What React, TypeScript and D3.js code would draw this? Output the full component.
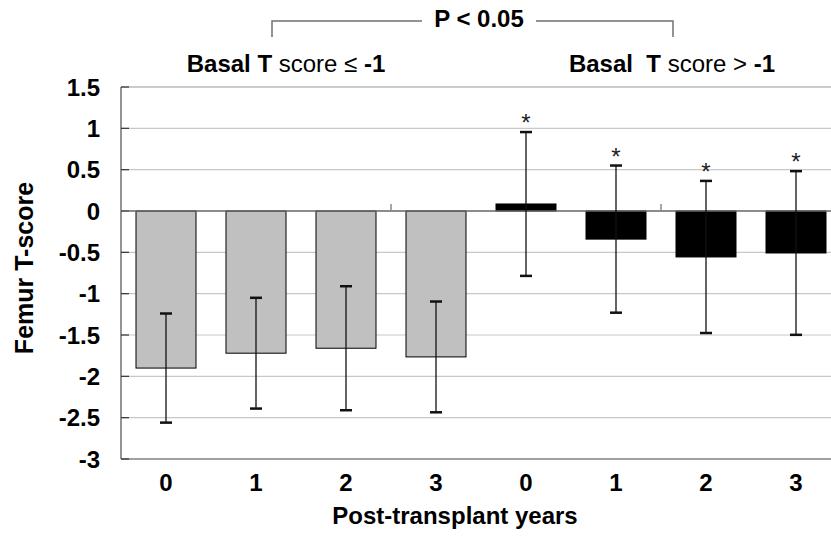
import React from "react";
import * as d3 from "d3";

const categories = ["0", "1", "2", "3", "0", "1", "2", "3"];
const groups = ["low", "low", "low", "low", "high", "high", "high", "high"];
const means = [-1.9, -1.72, -1.66, -1.765, 0.085, -0.34, -0.556, -0.508];
const sds = [0.66, 0.67, 0.75, 0.67, 0.87, 0.89, 0.92, 0.99];
const significant = [false, false, false, false, true, true, true, true];
const yTicks = [1.5, 1, 0.5, 0, -0.5, -1, -1.5, -2, -2.5, -3];
const yTickLabels = ["1.5", "1", "0.5", "0", "-0.5", "-1", "-1.5", "-2", "-2.5", "-3"];
const gridValues = [1.5, 1, 0.5, -0.5, -1, -1.5, -2, -2.5];

const W = 831;
const H = 537;
const plotLeft = 121;
const plotRight = 841;
const plotTop = 87;
const plotBottom = 459;
const FONT = "'Liberation Sans', Arial, Helvetica, sans-serif";

export default function App() {
  const idx = categories.map((_, i) => i);
  const x = d3
    .scaleBand<number>()
    .domain(idx)
    .range([plotLeft, plotRight])
    .paddingInner(1 / 3)
    .paddingOuter(1 / 6);
  const y = d3.scaleLinear().domain([-3, 1.5]).range([plotBottom, plotTop]);
  const step = x.step();
  const bw = x.bandwidth();
  const cx = (i: number) => (x(i) as number) + bw / 2;
  const capW = 12;

  return (
    <svg
      width={W}
      height={H}
      style={{ position: "absolute", left: 0, top: 0, background: "#fff" }}
      fontFamily={FONT}
    >
      <rect x={0} y={0} width={W} height={H} fill="#fff" />
      {/* gridlines */}
      {gridValues.map((v, i) => (
        <line
          key={"g" + i}
          x1={plotLeft}
          x2={W}
          y1={y(v)}
          y2={y(v)}
          stroke={v === 1.5 ? "#9a9a9a" : "#c8c8c8"}
          strokeWidth={1.2}
        />
      ))}
      {/* bottom frame */}
      <line x1={plotLeft} x2={W} y1={y(-3)} y2={y(-3)} stroke="#808080" strokeWidth={1.5} />
      {/* left axis */}
      <line x1={plotLeft} x2={plotLeft} y1={plotTop} y2={plotBottom} stroke="#707070" strokeWidth={1.5} />
      {yTicks.map((v, i) => (
        <line key={"t" + i} x1={plotLeft} x2={plotLeft + 8} y1={y(v)} y2={y(v)} stroke="#333" strokeWidth={1.2} />
      ))}
      {yTicks.map((v, i) => (
        <text
          key={"yl" + i}
          x={100}
          y={y(v)}
          dy="0.36em"
          textAnchor="end"
          fontSize={24}
          fontWeight="bold"
          fill="#000"
        >
          {yTickLabels[i]}
        </text>
      ))}
      {/* bars */}
      {idx.map((i) => {
        const v = means[i];
        const y0 = y(Math.max(0, v));
        const y1 = y(Math.min(0, v));
        return (
          <rect
            key={"b" + i}
            x={x(i)}
            y={y0}
            width={bw}
            height={y1 - y0}
            fill={groups[i] === "low" ? "#c0c0c0" : "#000"}
            stroke="#000"
            strokeWidth={1}
          />
        );
      })}
      {/* zero (category) axis */}
      <line x1={plotLeft} x2={W} y1={y(0)} y2={y(0)} stroke="#666" strokeWidth={1.5} />
      {idx
        .filter((i) => i > 0 && i % 3 === 0)
        .map((i) => (
          <line
            key={"ct" + i}
            x1={plotLeft + step * i}
            x2={plotLeft + step * i}
            y1={y(0)}
            y2={y(0) - 7}
            stroke="#888"
            strokeWidth={1.5}
          />
        ))}
      {/* error bars */}
      {idx.map((i) => {
        const c = cx(i);
        const hi = y(means[i] + sds[i]);
        const lo = y(means[i] - sds[i]);
        return (
          <g key={"e" + i}>
            <line x1={c} x2={c} y1={hi} y2={lo} stroke="#111" strokeWidth={1.3} />
            <line x1={c - capW / 2} x2={c + capW / 2} y1={hi} y2={hi} stroke="#111" strokeWidth={2.5} />
            <line x1={c - capW / 2} x2={c + capW / 2} y1={lo} y2={lo} stroke="#111" strokeWidth={2.5} />
            {significant[i] && (
              <text x={c} y={hi - 1} textAnchor="middle" fontSize={24} fill="#222">
                *
              </text>
            )}
          </g>
        );
      })}
      {/* x labels */}
      {idx.map((i) => (
        <text key={"xl" + i} x={cx(i)} y={491} textAnchor="middle" fontSize={24} fontWeight="bold" fill="#000">
          {categories[i]}
        </text>
      ))}
      <text x={455} y={524} textAnchor="middle" fontSize={24} fontWeight="bold" fill="#000">
        Post-transplant years
      </text>
      <text
        transform="translate(33,268) rotate(-90)"
        textAnchor="middle"
        fontSize={25}
        fontWeight="bold"
        fill="#000"
      >
        Femur T-score
      </text>
      {/* bracket */}
      <path d="M272,37 V21 H422" fill="none" stroke="#707070" strokeWidth={1.5} />
      <path d="M536,21 H673 V37" fill="none" stroke="#707070" strokeWidth={1.5} />
      <text x={479} y={27} textAnchor="middle" fontSize={24} fontWeight="bold" fill="#000">
        P &lt; 0.05
      </text>
      {/* group labels */}
      <text x={286} y={72} textAnchor="middle" fontSize={24} fill="#000" style={{ whiteSpace: "pre" }}>
        <tspan fontWeight="bold">Basal T </tspan>
        <tspan>score ≤ </tspan>
        <tspan fontWeight="bold">-1</tspan>
      </text>
      <text x={672} y={72} textAnchor="middle" fontSize={24} fill="#000" style={{ whiteSpace: "pre" }}>
        <tspan fontWeight="bold">Basal  T </tspan>
        <tspan>score &gt; </tspan>
        <tspan fontWeight="bold">-1</tspan>
      </text>
    </svg>
  );
}
